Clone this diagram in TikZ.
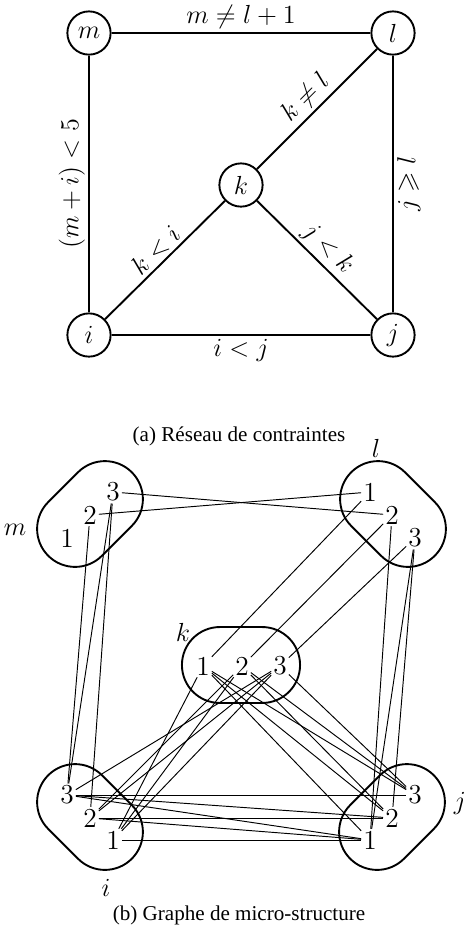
\RequirePackage{fix-cm}
\documentclass[tikz,border=0pt]{standalone}
\usepackage{amssymb}
\usepackage{fontspec}
\newfontfamily\capfont{Liberation Serif}
\usetikzlibrary{shapes.misc}
\newcommand\mylabfont{\fontsize{12.4}{14}\selectfont}
\newcommand\myvalfont{\fontsize{13}{15}\selectfont}
\tikzset{
  var/.style={circle, draw, line width=0.9pt, minimum size=20.5pt, inner sep=0pt, font=\mylabfont},
  cedge/.style={line width=0.9pt},
  elab/.style={font=\mylabfont, midway, sloped, inner sep=1.5pt},
  blob/.style={rounded rectangle, draw, line width=0.9pt, minimum width=56pt, minimum height=36pt, inner sep=0pt},
  val/.style={font=\myvalfont, inner sep=0.8pt},
  vedge/.style={line width=0.45pt},
  blab/.style={font=\mylabfont, inner sep=0pt},
  captext/.style={font=\capfont\fontsize{10}{12}\selectfont, inner sep=0pt}
}
\begin{document}
\begin{tikzpicture}[x=0.474pt, y=-0.474pt]
\useasboundingbox (0,0) rectangle (465,927);
% (a) constraint network
\node[var] (m) at (89,33) {$m$};
\node[var] (l) at (393,33) {$l$};
\node[var] (k) at (241,185) {$k$};
\node[var] (i) at (89,335) {$i$};
\node[var] (j) at (393,335) {$j$};
\draw[cedge] (m) -- node[elab, above] {$m \neq l+1$} (l);
\draw[cedge] (i) -- node[elab, above] {$(m+i)<5$} (m);
\draw[cedge] (i) -- node[elab, below] {$i<j$} (j);
\draw[cedge] (j) -- node[elab, below] {$j \geqslant l$} (l);
\draw[cedge] (i) -- node[elab, above] {$k<i$} (k);
\draw[cedge] (k) -- node[elab, above] {$k \neq l$} (l);
\draw[cedge] (k) -- node[elab, above] {$j<k$} (j);
\node[captext] (capa) at (239,436) {(a) Réseau de contraintes};
% (b) micro-structure graph
\node[blob, rotate=45] (mb) at (90,514) {};
\node[blob, rotate=-45] (lb) at (393,514) {};
\node[blob] (kb) at (241,665) {};
\node[blob, rotate=-45] (ib) at (90,817) {};
\node[blob, rotate=45] (jb) at (392,817) {};
\node[val] (m1) at (67,538) {1};
\node[val] (m2) at (90,515) {2};
\node[val] (m3) at (113,492) {3};
\node[val] (l1) at (370,492) {1};
\node[val] (l2) at (392,515) {2};
\node[val] (l3) at (415,538) {3};
\node[val] (k1) at (203,666) {1};
\node[val] (k2) at (242,666) {2};
\node[val] (k3) at (280,666) {3};
\node[val] (i3) at (67,795) {3};
\node[val] (i2) at (90,818) {2};
\node[val] (i1) at (113,840) {1};
\node[val] (j1) at (370,840) {1};
\node[val] (j2) at (392,818) {2};
\node[val] (j3) at (415,795) {3};
\node[blab] (lm) at (15,530) {$m$};
\node[blab] (ll) at (376,448) {$l$};
\node[blab] (lk) at (183,632) {$k$};
\node[blab] (li) at (106,888) {$i$};
\node[blab] (lj) at (460,803) {$j$};
\foreach \a/\b in {m2/l1, m3/l2,
                   m2/i3, m3/i2, m3/i3,
                   k1/l1, k2/l2, k3/l3,
                   l2/j1, l3/j1, l3/j2,
                   k1/i1, k2/i1, k3/i1, k2/i2, k3/i2, k3/i3,
                   j1/k1, j2/k1, j3/k1, j2/k2, j3/k2, j3/k3,
                   i1/j1, i2/j1, i2/j2, i3/j1, i3/j2, i3/j3}
  \draw[vedge] (\a) -- (\b);
\node[captext] (capb) at (239,915) {(b) Graphe de micro-structure};
\end{tikzpicture}
\end{document}
